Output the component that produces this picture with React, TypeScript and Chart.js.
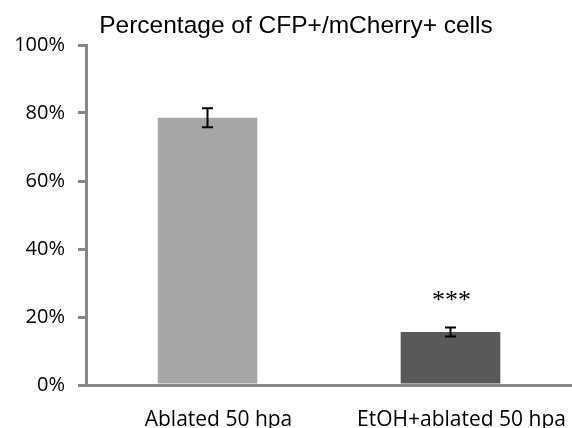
import React, { useEffect, useRef } from "react";
import { Chart, registerables } from "chart.js";

Chart.register(...registerables);

const title = "Percentage of CFP+/mCherry+ cells";
const categories = ["Ablated 50 hpa", "EtOH+ablated 50 hpa"];
const values = [78.6, 15.6];
const errors = [2.8, 1.3];
const annotations = ["", "***"];
const barColors = ["#a6a6a6", "#595959"];
const yTicks = [0, 20, 40, 60, 80, 100];

const titlePlugin = {
  id: "titleText",
  afterDraw(chart: any) {
    const { ctx } = chart;
    ctx.save();
    ctx.fillStyle = "#000";
    ctx.font = "24.5px 'Liberation Sans'";
    ctx.textAlign = "center";
    ctx.textBaseline = "alphabetic";
    ctx.fillText(title, (chart.width + 20) / 2, 33);
    ctx.restore();
  },
};

const errorBarPlugin = {
  id: "errorBars",
  afterDatasetsDraw(chart: any) {
    const { ctx, scales } = chart;
    const meta = chart.getDatasetMeta(0);
    const y = scales.y;
    ctx.save();
    meta.data.forEach((bar: any, i: number) => {
      const x = bar.x;
      const top = y.getPixelForValue(values[i] + errors[i]);
      const bot = y.getPixelForValue(values[i] - errors[i]);
      ctx.strokeStyle = "#000";
      ctx.lineWidth = 2;
      ctx.beginPath();
      ctx.moveTo(x, top);
      ctx.lineTo(x, bot);
      ctx.moveTo(x - 5.5, top);
      ctx.lineTo(x + 5.5, top);
      ctx.moveTo(x - 5.5, bot);
      ctx.lineTo(x + 5.5, bot);
      ctx.stroke();
      if (annotations[i]) {
        ctx.fillStyle = "#000";
        ctx.font = "26px 'Liberation Serif'";
        ctx.textAlign = "center";
        ctx.textBaseline = "middle";
        ctx.fillText(annotations[i], x + 1, top - 26);
      }
    });
    ctx.restore();
  },
};

export default function App() {
  const ref = useRef<HTMLCanvasElement>(null);
  useEffect(() => {
    document.body.style.margin = "0";
    const chart = new Chart(ref.current!, {
      type: "bar",
      data: {
        labels: categories,
        datasets: [
          {
            data: values,
            backgroundColor: barColors,
            barPercentage: 0.41,
            categoryPercentage: 1,
          },
        ],
      },
      options: {
        animation: false,
        responsive: false,
        layout: { padding: { left: 0, right: 0, top: 45, bottom: 0 } },
        plugins: {
          legend: { display: false },
          tooltip: { enabled: false },
          title: { display: false },
        },
        scales: {
          x: {
            afterFit(scale: any) {
              scale.height = 43;
            },
            grid: { display: false },
            border: { display: true, color: "#878787", width: 3 },
            ticks: {
              color: "#000",
              font: { family: "'Open Sans'", size: 21 },
              padding: 14,
              labelOffset: 11,
            },
          },
          y: {
            min: 0,
            max: 100,
            afterFit(scale: any) {
              scale.width = 86;
            },
            afterBuildTicks(scale: any) {
              scale.ticks = yTicks.map((v) => ({ value: v }));
            },
            grid: {
              drawOnChartArea: false,
              drawTicks: true,
              tickLength: 8,
              color: "#878787",
              lineWidth: 3,
            },
            border: { display: true, color: "#878787", width: 3 },
            ticks: {
              color: "#000",
              font: { family: "'Open Sans'", size: 20 },
              padding: 13,
              callback: (v: any) => v + "%",
            },
          },
        },
      },
      plugins: [errorBarPlugin, titlePlugin],
    });
    return () => chart.destroy();
  }, []);
  return <canvas ref={ref} width={572} height={428} style={{ display: "block" }} />;
}
